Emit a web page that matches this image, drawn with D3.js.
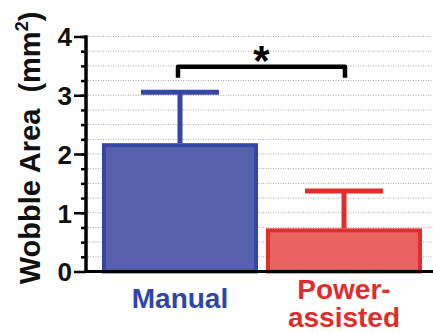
<!DOCTYPE html>
<html>
<head>
<meta charset="utf-8">
<script src="https://cdn.jsdelivr.net/npm/d3@7"></script>
<style>
  html, body { margin: 0; padding: 0; background: #fff; }
  svg { display: block; }
  text { font-family: "Liberation Sans", Arial, sans-serif; font-weight: bold; }
</style>
</head>
<body>
<script>
// Wobble area by wheelchair type
const categories = ["Manual", "Power-assisted"];
const labelLines = [["Manual"], ["Power-", "assisted"]];
const means = [2.15, 0.70];
const errors = [0.90, 0.67];
const majorTicks = [0, 1, 2, 3, 4];
const minorTicks = d3.range(0.25, 4.01, 0.25);
const significance = "*";

const W = 433, H = 332;
const axisX = 86, x1 = 433;
const yTop = 36.5, yBottom = 271.5;

const fills = ["#5660ab", "#ea6262"];
const strokes = ["#3646a8", "#e0302e"];
const labelColors = ["#2f46a6", "#dc2e2c"];

const svg = d3.select("body").append("svg")
  .attr("width", W).attr("height", H);

const y = d3.scaleLinear().domain([0, 4]).range([yBottom, yTop]);
const x = d3.scaleBand().domain(categories)
  .range([92, 432]).paddingInner(0.073).paddingOuter(0.073);

// dotted grid lines
svg.append("g").selectAll("line")
  .data(minorTicks)
  .join("line")
  .attr("x1", axisX + 2).attr("x2", x1)
  .attr("y1", d => y(d)).attr("y2", d => y(d))
  .attr("stroke", "#a9a9a9")
  .attr("stroke-width", 1)
  .attr("stroke-dasharray", "1,1.5");

// bars
svg.append("g").selectAll("rect")
  .data(categories)
  .join("rect")
  .attr("x", d => x(d))
  .attr("width", x.bandwidth())
  .attr("y", (d, i) => y(means[i]))
  .attr("height", (d, i) => y(0) - y(means[i]))
  .attr("fill", (d, i) => fills[i])
  .attr("stroke", (d, i) => strokes[i])
  .attr("stroke-width", 4);

// error bars (upper only)
const eb = svg.append("g").selectAll("g")
  .data(categories)
  .join("g");
eb.append("line")
  .attr("x1", d => x(d) + x.bandwidth() / 2)
  .attr("x2", d => x(d) + x.bandwidth() / 2)
  .attr("y1", (d, i) => y(means[i]) - 2)
  .attr("y2", (d, i) => y(means[i] + errors[i]))
  .attr("stroke", (d, i) => strokes[i])
  .attr("stroke-width", 5);
eb.append("line")
  .attr("x1", d => x(d) + x.bandwidth() / 2 - 39)
  .attr("x2", d => x(d) + x.bandwidth() / 2 + 39)
  .attr("y1", (d, i) => y(means[i] + errors[i]))
  .attr("y2", (d, i) => y(means[i] + errors[i]))
  .attr("stroke", (d, i) => strokes[i])
  .attr("stroke-width", 5);

// y axis: minor then major ticks
const minorAxis = svg.append("g")
  .attr("transform", `translate(${axisX},0)`)
  .call(d3.axisLeft(y).tickValues(minorTicks).tickSize(5).tickFormat(""));
const majorAxis = svg.append("g")
  .attr("transform", `translate(${axisX},0)`)
  .call(d3.axisLeft(y).tickValues(majorTicks).tickSize(12).tickPadding(2).tickFormat(d3.format("d")));
[minorAxis, majorAxis].forEach(g => {
  g.select(".domain").attr("stroke", "#000").attr("stroke-width", 3)
    .attr("d", `M0,${yTop - 1}V${yBottom}`);
  g.selectAll(".tick line").attr("stroke", "#000").attr("stroke-width", 2.5);
});
majorAxis.selectAll(".tick text")
  .attr("font-size", 26)
  .attr("fill", "#111")
  .attr("dy", "0.36em");

// x axis baseline
svg.append("line")
  .attr("x1", axisX - 1.5).attr("x2", x1)
  .attr("y1", yBottom).attr("y2", yBottom)
  .attr("stroke", "#000").attr("stroke-width", 3);

// category labels
categories.forEach((c, i) => {
  const cx = x(c) + x.bandwidth() / 2;
  const lines = labelLines[i];
  const t = svg.append("text")
    .attr("text-anchor", "middle")
    .attr("font-size", 28)
    .attr("fill", labelColors[i]);
  lines.forEach((ln, j) => {
    t.append("tspan")
      .attr("x", cx)
      .attr("y", lines.length === 1 ? 308 : 299 + j * 28)
      .text(ln);
  });
});

// significance bracket
const bx0 = x(categories[0]) + x.bandwidth() / 2 - 2;
const bx1 = x(categories[1]) + x.bandwidth() / 2 + 1;
const bTop = y(3.5) + 0.8, bBot = y(3.3);
svg.append("path")
  .attr("d", `M${bx0},${bBot}V${bTop}H${bx1}V${bBot}`)
  .attr("fill", "none")
  .attr("stroke", "#000")
  .attr("stroke-width", 4.5)
  .attr("stroke-linejoin", "round");
svg.append("text")
  .attr("x", (bx0 + bx1) / 2)
  .attr("y", 75)
  .attr("text-anchor", "middle")
  .attr("font-size", 42)
  .attr("fill", "#000")
  .text(significance);

// y axis title
const title = svg.append("text")
  .attr("transform", `translate(40,148) rotate(-90)`)
  .attr("text-anchor", "middle")
  .attr("font-size", 29)
  .attr("fill", "#111");
title.append("tspan").text("Wobble Area\u00a0\u00a0(mm");
title.append("tspan").attr("font-size", 18).attr("dy", -12).text("2");
title.append("tspan").attr("dy", 12).text(")");
</script>
</body>
</html>
